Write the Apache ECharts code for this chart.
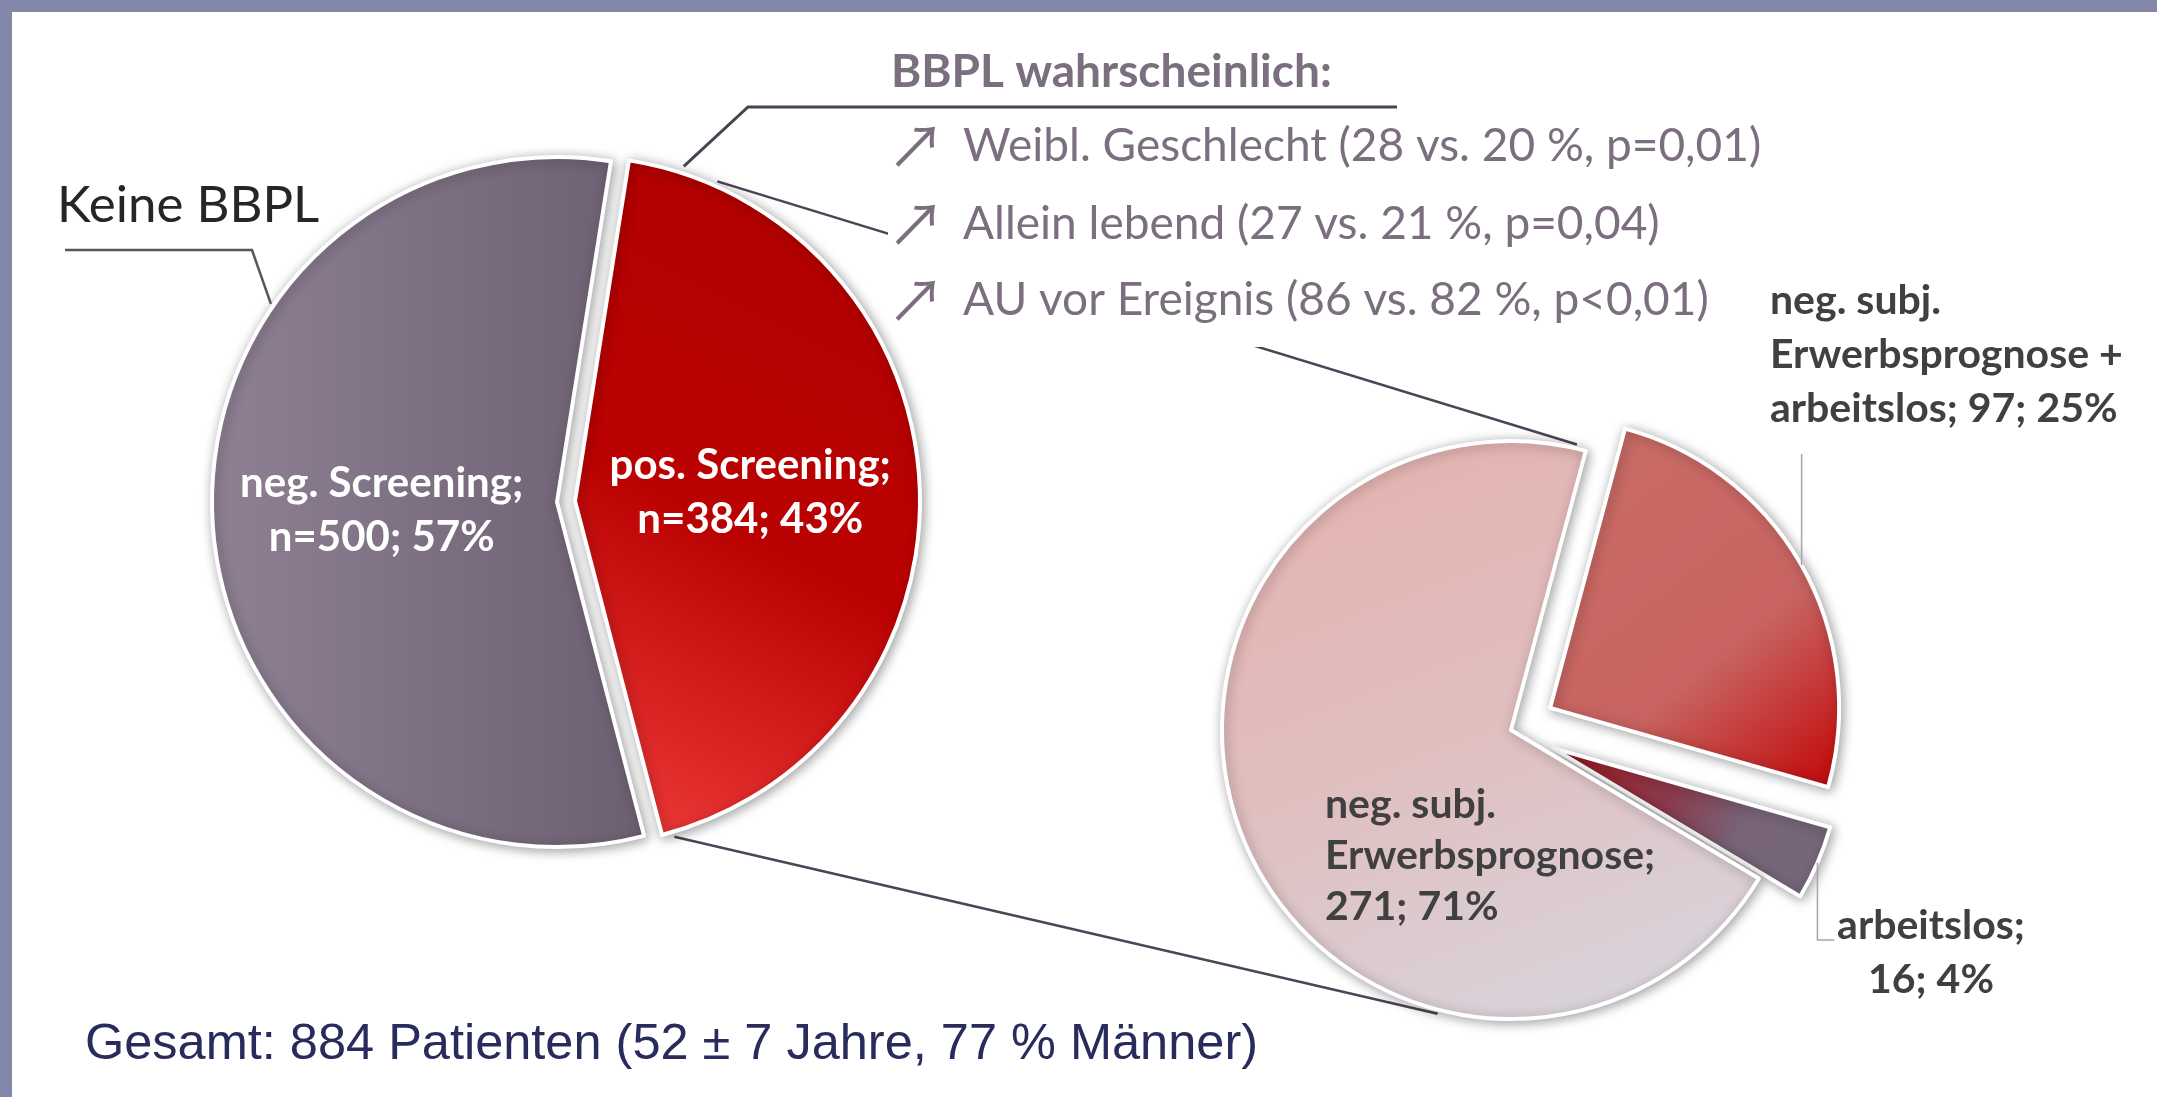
<!DOCTYPE html>
<html>
<head>
<meta charset="utf-8">
<script src="https://cdn.jsdelivr.net/npm/echarts@6/dist/echarts.min.js"></script>
<style>
html,body{margin:0;padding:0;background:#fff;}
#chart{width:2157px;height:1097px;}
</style>
</head>
<body>
<div id="chart"></div>
<script>
// ---------- data ----------
const leftCategories = ['pos. Screening', 'neg. Screening'];
const leftValues = [384, 500];

const rightCategories = ['neg. subj. Erwerbsprognose + arbeitslos', 'arbeitslos', 'neg. subj. Erwerbsprognose'];
const rightLabelNames = ['neg. subj.\nErwerbsprognose +\narbeitslos', 'arbeitslos', 'neg. subj.\nErwerbsprognose'];
const rightLabelBreaks = [' ', '\n', '\n'];
const rightValues = [97, 16, 271];

const leftPieTitle = 'Keine BBPL';
const factsTitle = 'BBPL wahrscheinlich:';
const factsLines = [
  'Weibl. Geschlecht (28 vs. 20 %, p=0,01)',
  'Allein lebend (27 vs. 21 %, p=0,04)',
  'AU vor Ereignis (86 vs. 82 %, p<0,01)'
];
const footerText = 'Gesamt: 884 Patienten (52 \u00b1 7 Jahre, 77 % M\u00e4nner)';

// ---------- layout ----------
const W = 2157, H = 1097;
const LC = [557, 502], LR = 345, L_START = 81, L_OFF = 18;
const RC = [1511, 730], RR = 289, R_START = 75, R_OFF = 45;

function polar(c, r, degCW) {
  const a = degCW * Math.PI / 180;
  return [c[0] + r * Math.sin(a), c[1] - r * Math.cos(a)];
}
function sum(a) { return a.reduce((s, v) => s + v, 0); }

const lTot = sum(leftValues);
const redSpan = leftValues[0] / lTot * 360;
const redStartCW = 90 - L_START;
const redMid = redStartCW + redSpan / 2;
const redCenter = polar(LC, L_OFF, redMid);

const rTot = sum(rightValues);
const rStartCW = 90 - R_START;
const rMid = [];
let acc = rStartCW;
rightValues.forEach(v => { const s = v / rTot * 360; rMid.push(acc + s / 2); acc += s; });
const c97 = polar(RC, R_OFF, rMid[0]);
const c16 = polar(RC, R_OFF, rMid[1]);

const leftGrad = [
  { type: 'linear', x: 1, y: 0, x2: 0, y2: 1, colorStops: [
    { offset: 0, color: '#ae0000' }, { offset: 0.55, color: '#bb0202' }, { offset: 1, color: '#f23e3e' } ] },
  { type: 'linear', x: 0, y: 0, x2: 1, y2: 0, colorStops: [
    { offset: 0, color: '#8f8094' }, { offset: 1, color: '#6c5f71' } ] }
];
const rightGrad = [
  { type: 'linear', x: 0, y: 0, x2: 1, y2: 1, colorStops: [
    { offset: 0, color: '#c96d67' }, { offset: 0.62, color: '#c76360' }, { offset: 1, color: '#c30406' } ] },
  { type: 'linear', x: 0, y: 0, x2: 1, y2: 1, colorStops: [
    { offset: 0, color: '#a8141c' }, { offset: 0.4, color: '#8a3a4c' }, { offset: 0.65, color: '#786378' }, { offset: 1, color: '#74687a' } ] },
  { type: 'linear', x: 0.3, y: 0, x2: 0.7, y2: 1, colorStops: [
    { offset: 0, color: '#e4b3b0' }, { offset: 0.5, color: '#e0bfbf' }, { offset: 1, color: '#d9d4dc' } ] }
];

const sliceStyle = {
  borderColor: '#ffffff', borderWidth: 4,
  shadowBlur: 12, shadowColor: 'rgba(0,0,0,0.35)', shadowOffsetX: 2, shadowOffsetY: 2
};
const clearStyle = { color: 'rgba(0,0,0,0)', borderWidth: 0, shadowBlur: 0, shadowColor: 'rgba(0,0,0,0)' };

const lineColor = '#4d4556';
const txtColor = '#7b6e7e';

const graphics = [];
graphics.push({ type: 'rect', z: 0, shape: { x: 0, y: 0, width: W, height: 12 }, style: { fill: '#8387a9' } });
graphics.push({ type: 'rect', z: 0, shape: { x: 0, y: 0, width: 12, height: H }, style: { fill: '#8387a9' } });

// pie-of-pie connectors
const cTopA = polar(redCenter, LR + 5, 24), cTopB = polar(RC, RR + 4, 13);
const cBotA = polar(redCenter, LR + 5, 163.5), cBotB = polar(RC, RR + 4, 194.5);
graphics.push({ type: 'line', z: 1, shape: { x1: cTopA[0], y1: cTopA[1], x2: cTopB[0], y2: cTopB[1] }, style: { stroke: lineColor, lineWidth: 2.5 } });
graphics.push({ type: 'line', z: 1, shape: { x1: cBotA[0], y1: cBotA[1], x2: cBotB[0], y2: cBotB[1] }, style: { stroke: lineColor, lineWidth: 2.5 } });
graphics.push({ type: 'rect', z: 2, shape: { x: 888, y: 118, width: 830, height: 229 }, style: { fill: '#ffffff' } });

// "Keine BBPL" annotation
const kbEnd = polar(LC, LR + 3, 304.7);
graphics.push({ type: 'polyline', z: 3, shape: { points: [[65, 250], [252, 250], kbEnd] }, style: { stroke: '#5c5262', lineWidth: 2.5, fill: null } });
graphics.push({ type: 'text', z: 3, style: { text: leftPieTitle, x: 57, y: 206, font: '51px Lato', fill: '#262626', align: 'left', verticalAlign: 'middle' } });

// "BBPL wahrscheinlich" annotation
const bwStart = polar(redCenter, LR + 7, 18);
graphics.push({ type: 'polyline', z: 3, shape: { points: [bwStart, [748, 107], [1397, 107]] }, style: { stroke: '#4a4250', lineWidth: 3, fill: null } });
graphics.push({ type: 'text', z: 3, style: { text: factsTitle, x: 891, y: 72, font: 'bold 46px Lato', fill: txtColor, align: 'left', verticalAlign: 'middle' } });
const rowY = [146, 224, 300];
factsLines.forEach((t, i) => {
  graphics.push({ type: 'text', z: 3, style: { text: '\u2197', x: 887, y: rowY[i], font: '58px "Noto Sans CJK SC"', fill: txtColor, align: 'left', verticalAlign: 'middle' } });
  graphics.push({ type: 'text', z: 3, style: { text: t, x: 963, y: rowY[i], font: '46px Lato', fill: txtColor, align: 'left', verticalAlign: 'middle' } });
});

// right pie leader lines
const l97 = polar(c97, RR, rMid[0]);
graphics.push({ type: 'polyline', z: 3, shape: { points: [l97, [l97[0], 454]] }, style: { stroke: '#a6a6a6', lineWidth: 1.5, fill: null } });
const l16 = polar(c16, RR, rMid[1]);
graphics.push({ type: 'polyline', z: 3, shape: { points: [l16, [l16[0], 940], [l16[0] + 17, 940]] }, style: { stroke: '#a6a6a6', lineWidth: 1.5, fill: null } });

// footer
graphics.push({ type: 'text', z: 3, style: { text: footerText, x: 85, y: 1045, font: '50.5px "Liberation Sans"', fill: '#282b5c', align: 'left', verticalAlign: 'middle' } });

const chart = echarts.init(document.getElementById('chart'), null, { renderer: 'canvas' });
chart.setOption({
  animation: false,
  backgroundColor: '#ffffff',
  graphic: graphics,
  series: [
    {
      type: 'pie',
      center: LC, radius: LR,
      startAngle: L_START, clockwise: true,
      selectedMode: 'multiple', selectedOffset: L_OFF,
      avoidLabelOverlap: false,
      itemStyle: sliceStyle,
      select: { itemStyle: sliceStyle },
      emphasis: { disabled: true },
      label: {
        show: true, position: 'inside',
        fontFamily: 'Lato', fontWeight: 'bold', fontSize: 42, lineHeight: 54, color: '#ffffff',
        formatter: p => p.name + ';\nn=' + p.value + '; ' + Math.round(p.percent) + '%'
      },
      labelLine: { show: false },
      data: leftCategories.map((n, i) => ({
        name: n, value: leftValues[i], selected: i === 0,
        itemStyle: { color: leftGrad[i] }
      }))
    },
    {
      type: 'pie',
      center: RC, radius: RR,
      startAngle: R_START, clockwise: true,
      selectedMode: 'multiple', selectedOffset: R_OFF,
      avoidLabelOverlap: false,
      itemStyle: sliceStyle,
      select: { itemStyle: sliceStyle },
      emphasis: { disabled: true },
      label: { show: false },
      labelLine: { show: false },
      data: rightCategories.map((n, i) => ({
        name: n, value: rightValues[i], selected: i < 2,
        itemStyle: { color: rightGrad[i] }
      }))
    },
    {
      // transparent twin of the right pie that only carries its labels
      type: 'pie',
      silent: true, z: 5,
      center: RC, radius: RR,
      startAngle: R_START, clockwise: true,
      avoidLabelOverlap: false,
      itemStyle: clearStyle,
      emphasis: { disabled: true },
      label: {
        show: true, position: 'inside',
        fontFamily: 'Lato', fontWeight: 'bold', fontSize: 41, lineHeight: 54, color: '#404040',
        formatter: p => rightLabelNames[p.dataIndex] + ';' + rightLabelBreaks[p.dataIndex] + p.value + '; ' + Math.round(p.percent) + '%'
      },
      labelLine: { show: false },
      labelLayout: function (p) {
        if (p.dataIndex === 0) return { x: RC[0] + 259, y: 355, align: 'left', verticalAlign: 'middle' };
        if (p.dataIndex === 1) return { x: RC[0] + 420, y: 953, align: 'center', verticalAlign: 'middle' };
        return { x: RC[0] - 186, y: 856, align: 'left', verticalAlign: 'middle' };
      },
      data: rightCategories.map((n, i) => ({
        name: n, value: rightValues[i],
        label: i === 2 ? { lineHeight: 51 } : undefined
      }))
    }
  ]
});
</script>
</body>
</html>
